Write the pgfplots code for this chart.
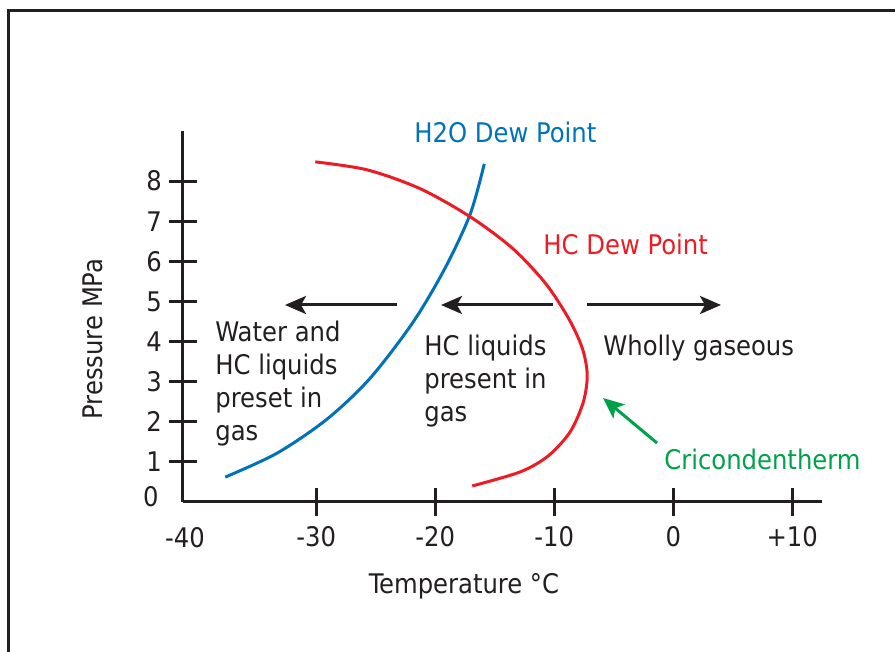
\documentclass[border=0pt]{standalone}
\usepackage{pgfplots}
\pgfplotsset{compat=1.18}
\usepackage{fontspec}
\setmainfont{DejaVu Sans Condensed}
\usetikzlibrary{arrows.meta}
\definecolor{dk}{HTML}{231F20}
\definecolor{h2o}{HTML}{0072BC}
\definecolor{hc}{HTML}{ED1C24}
\definecolor{gr}{HTML}{00A14B}
\newcommand{\fs}{\fontsize{13.5}{16.5}\selectfont}
\begin{document}
\begin{tikzpicture}
\begin{axis}[
  at={(0,0)}, anchor=south west,
  scale only axis, width=319.5pt, height=185.5pt,
  xmin=-41.2, xmax=12.5, ymin=0, ymax=9.25,
  axis x line=bottom, axis y line=left,
  axis line style={-, line width=1.5pt, draw=dk},
  xtick={-30,-20,-10,0,10}, xticklabels={-30,-20,-10,0,+10},
  ytick={1,2,3,4,5,6,7,8}, yticklabels={1,2,3,4,5,6,7,8},
  tick align=center, major tick length=14pt,
  tick style={line width=1.5pt, draw=dk},
  ticklabel style={font=\fs, text=dk},
  xticklabel style={yshift=-1.5pt},
  clip=false,
]
\addplot[h2o, line width=1.5pt, smooth, tension=0.5] coordinates {
(-37.65,0.62) (-33.28,1.22) (-29.08,2.07) (-25.46,3.09) (-21.85,4.49)
(-19.16,5.84) (-17.06,7.18) (-15.88,8.43)};
\addplot[hc, line width=1.5pt, smooth, tension=0.5] coordinates {
(-30.08,8.48) (-25.71,8.28) (-21.26,7.81) (-17.06,7.11) (-13.53,6.33)
(-10.76,5.46) (-8.82,4.59) (-7.65,3.84) (-7.23,3.17) (-7.56,2.49)
(-8.66,1.75) (-10.50,1.15) (-12.86,0.75) (-16.89,0.40)};
\end{axis}
\begin{scope}[x=0.5pt, y=-0.5pt, shift={(-183,-502)}]
  \draw[dk, line width=1.5pt] (9,660) -- (9,11) -- (900,11);
  \tikzset{lbl/.style={anchor=base west, inner sep=0pt, font=\fs, text=dk}}
  \node[font=\fs, text=dk, inner sep=0pt, anchor=base] at (185,548) {-40};
  \node[font=\fs, text=dk, inner sep=0pt, anchor=base east] at (159,507) {0};
  \node[lbl, text=h2o] at (414,143) {H2O Dew Point};
  \node[lbl, text=hc] at (543,255) {HC Dew Point};
  \node[lbl] at (603,356) {Wholly gaseous};
  \node[lbl] at (424,356) {HC liquids};
  \node[lbl] at (424,389) {present in};
  \node[lbl] at (424,422) {gas};
  \node[lbl] at (215,342) {Water and};
  \node[lbl] at (215,375) {HC liquids};
  \node[lbl] at (215,408) {preset in};
  \node[lbl] at (215,441) {gas};
  \node[lbl, text=gr] at (664,470) {Cricondentherm};
  \node[font=\fs, text=dk, anchor=base] at (464,594) {Temperature °C};
  \node[font=\fs, text=dk, rotate=90] at (93,339) {Pressure MPa};
  \tikzset{arr/.style={line width=1.5pt, -{Stealth[length=10.5pt, width=9pt, inset=2.5pt]}}}
  \draw[arr, dk] (397,305) -- (285,305);
  \draw[arr, dk] (553,305) -- (441,305);
  \draw[arr, dk] (587,305) -- (721,305);
  \draw[arr, gr] (657,443) -- (603,398);
\end{scope}
\pgfresetboundingbox
\path[use as bounding box] (-91.5pt,-75pt) rectangle (356pt,251pt);
\end{tikzpicture}
\end{document}
